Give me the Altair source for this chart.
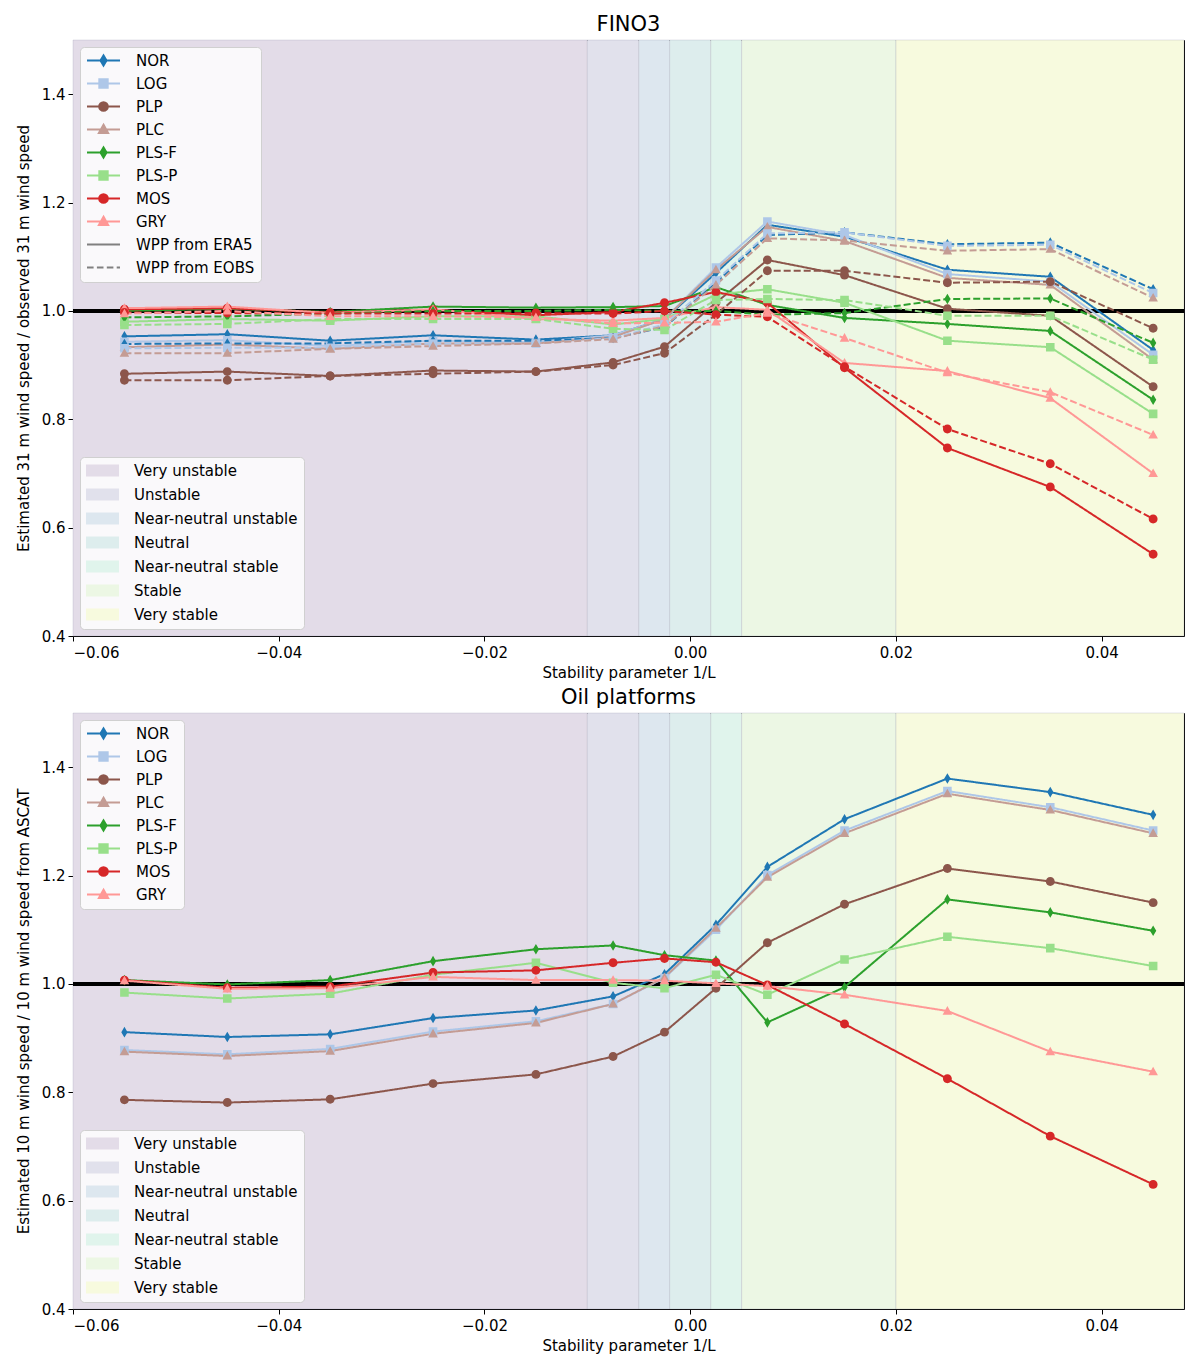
import altair as alt
import pandas as pd

# ---------------- data ----------------
x_vals = [-0.055, -0.045, -0.035, -0.025, -0.015, -0.0075, -0.0025,
          0.0025, 0.0075, 0.015, 0.025, 0.035, 0.045]

methods = ["NOR", "LOG", "PLP", "PLC", "PLS-F", "PLS-P", "MOS", "GRY"]
method_colors = ["#1f77b4", "#aec7e8", "#8c564b", "#c49c94",
                 "#2ca02c", "#98df8a", "#d62728", "#ff9896"]
wpp_labels = ["WPP from ERA5", "WPP from EOBS"]
wpp_color = "#808080"

# FINO3, WPP from ERA5 (solid)
fino_era5_nor = [0.953, 0.957, 0.945, 0.955, 0.947, 0.955, 0.985, 1.070, 1.159, 1.137, 1.076, 1.063, 0.928]
fino_era5_log = [0.943, 0.946, 0.935, 0.945, 0.942, 0.955, 0.985, 1.080, 1.165, 1.140, 1.068, 1.054, 0.919]
fino_era5_plp = [0.884, 0.888, 0.880, 0.890, 0.888, 0.905, 0.934, 1.015, 1.094, 1.066, 1.004, 0.991, 0.860]
fino_era5_plc = [0.933, 0.938, 0.930, 0.940, 0.940, 0.952, 0.985, 1.076, 1.155, 1.129, 1.061, 1.048, 0.910]
fino_era5_plsf = [1.000, 1.004, 0.998, 1.008, 1.006, 1.007, 1.009, 1.044, 1.011, 0.987, 0.976, 0.963, 0.836]
fino_era5_plsp = [0.980, 0.985, 0.982, 0.990, 0.990, 0.975, 0.985, 1.030, 1.040, 1.015, 0.945, 0.933, 0.810]
fino_era5_mos = [1.003, 1.005, 0.997, 1.002, 0.992, 0.998, 1.015, 1.035, 1.015, 0.895, 0.747, 0.675, 0.551]
fino_era5_gry = [1.005, 1.008, 0.996, 1.003, 0.985, 0.982, 0.987, 1.007, 1.002, 0.904, 0.889, 0.839, 0.700]

# FINO3, WPP from EOBS (dashed)
fino_eobs_nor = [0.939, 0.940, 0.940, 0.945, 0.945, 0.950, 0.970, 1.052, 1.140, 1.145, 1.123, 1.126, 1.040]
fino_eobs_log = [0.931, 0.932, 0.932, 0.940, 0.940, 0.950, 0.975, 1.056, 1.143, 1.145, 1.120, 1.122, 1.033]
fino_eobs_plp = [0.872, 0.872, 0.880, 0.884, 0.888, 0.900, 0.922, 0.993, 1.074, 1.074, 1.052, 1.054, 0.968]
fino_eobs_plc = [0.922, 0.922, 0.930, 0.935, 0.940, 0.948, 0.972, 1.048, 1.134, 1.130, 1.111, 1.114, 1.024]
fino_eobs_plsf = [0.988, 0.990, 0.995, 1.000, 1.000, 1.002, 1.000, 1.000, 0.993, 0.996, 1.022, 1.023, 0.941]
fino_eobs_plsp = [0.974, 0.976, 0.985, 0.985, 0.985, 0.967, 0.965, 1.020, 1.022, 1.020, 0.991, 0.991, 0.910]
fino_eobs_mos = [0.997, 0.996, 0.995, 0.995, 0.996, 0.995, 1.000, 0.993, 0.989, 0.897, 0.782, 0.718, 0.616]
fino_eobs_gry = [0.995, 1.000, 0.990, 0.990, 0.988, 0.977, 0.978, 0.980, 0.996, 0.950, 0.886, 0.850, 0.771]

# Oil platforms
oil_nor = [0.911, 0.902, 0.907, 0.937, 0.951, 0.977, 1.018, 1.109, 1.216, 1.304, 1.379, 1.354, 1.312]
oil_log = [0.878, 0.870, 0.880, 0.912, 0.931, 0.963, 1.011, 1.100, 1.201, 1.283, 1.356, 1.326, 1.283]
oil_plp = [0.786, 0.781, 0.787, 0.816, 0.833, 0.866, 0.911, 0.992, 1.076, 1.147, 1.213, 1.189, 1.150]
oil_plc = [0.875, 0.867, 0.876, 0.908, 0.928, 0.963, 1.012, 1.103, 1.197, 1.278, 1.351, 1.321, 1.278]
oil_plsf = [1.007, 0.999, 1.007, 1.042, 1.064, 1.071, 1.053, 1.043, 0.929, 0.994, 1.156, 1.132, 1.098]
oil_plsp = [0.984, 0.973, 0.982, 1.017, 1.039, 1.002, 0.992, 1.017, 0.980, 1.045, 1.087, 1.066, 1.033]
oil_mos = [1.007, 0.993, 0.995, 1.021, 1.025, 1.039, 1.047, 1.040, 0.998, 0.926, 0.825, 0.719, 0.630]
oil_gry = [1.006, 0.991, 0.992, 1.013, 1.007, 1.007, 1.006, 1.001, 0.996, 0.980, 0.950, 0.875, 0.838]

# stability classes
region_names = ["Very unstable", "Unstable", "Near-neutral unstable", "Neutral",
                "Near-neutral stable", "Stable", "Very stable"]
region_start = [-0.06, -0.01, -0.005, -0.002, 0.002, 0.005, 0.02]
region_end = [-0.01, -0.005, -0.002, 0.002, 0.005, 0.02, 0.048]
region_colors = ["#e3dce8", "#e1e1ec", "#dde7ef", "#ddeded", "#e0f4ec", "#ecf7e4", "#f7fade"]

x_ticks = [-0.06, -0.04, -0.02, 0.0, 0.02, 0.04]
y_ticks = [0.4, 0.6, 0.8, 1.0, 1.2, 1.4]

# ---------------- tables ----------------
fino_series = {
    ("ERA5", "NOR"): fino_era5_nor, ("ERA5", "LOG"): fino_era5_log,
    ("ERA5", "PLP"): fino_era5_plp, ("ERA5", "PLC"): fino_era5_plc,
    ("ERA5", "PLS-F"): fino_era5_plsf, ("ERA5", "PLS-P"): fino_era5_plsp,
    ("ERA5", "MOS"): fino_era5_mos, ("ERA5", "GRY"): fino_era5_gry,
    ("EOBS", "NOR"): fino_eobs_nor, ("EOBS", "LOG"): fino_eobs_log,
    ("EOBS", "PLP"): fino_eobs_plp, ("EOBS", "PLC"): fino_eobs_plc,
    ("EOBS", "PLS-F"): fino_eobs_plsf, ("EOBS", "PLS-P"): fino_eobs_plsp,
    ("EOBS", "MOS"): fino_eobs_mos, ("EOBS", "GRY"): fino_eobs_gry,
}
oil_series = {
    ("ERA5", "NOR"): oil_nor, ("ERA5", "LOG"): oil_log,
    ("ERA5", "PLP"): oil_plp, ("ERA5", "PLC"): oil_plc,
    ("ERA5", "PLS-F"): oil_plsf, ("ERA5", "PLS-P"): oil_plsp,
    ("ERA5", "MOS"): oil_mos, ("ERA5", "GRY"): oil_gry,
}


def long_table(series):
    rows = []
    for (src, m), vals in series.items():
        for xv, yv in zip(x_vals, vals):
            rows.append({"source": src, "method": m, "x": xv, "value": yv})
    return pd.DataFrame(rows)


fino_df = long_table(fino_series)
oil_df = long_table(oil_series)
region_df = pd.DataFrame({"region": region_names, "x0": region_start, "x1": region_end})

# symbols: a line segment plus a marker; in the plot only the filled marker shows,
# in the legend the stroked line segment appears too
L = "M-1,0L1,0"
sym_diamond = L + "M0,-0.32L0.19,0L0,0.32L-0.19,0Z"
sym_square = L + "M-0.26,-0.26L0.26,-0.26L0.26,0.26L-0.26,0.26Z"
sym_circle = L + "M-0.27,0A0.27,0.27,0,1,0,0.27,0A0.27,0.27,0,1,0,-0.27,0Z"
sym_tri = L + "M0,-0.3L0.29,0.22L-0.29,0.22Z"
sym_dash = "M-1,0L-0.6,0M-0.4,0L0,0M0.2,0L0.6,0M0.8,0L1,0"
method_shapes = [sym_diamond, sym_square, sym_circle, sym_tri,
                 sym_diamond, sym_square, sym_circle, sym_tri]
wpp_shapes = [L, sym_dash]

font = "DejaVu Sans"
FS = 15


def panel(df, title, ytitle, with_wpp):
    dom = methods + (wpp_labels if with_wpp else [])
    crange = method_colors + ([wpp_color, wpp_color] if with_wpp else [])
    srange = method_shapes + (wpp_shapes if with_wpp else [])
    series_legend = alt.Legend(
        title=None, orient="top-left", offset=7, padding=6,
        labelFontSize=FS, labelFont=font, labelOffset=15, labelColor="#000000",
        labelLimit=400,
        rowPadding=7, clipHeight=15, symbolSize=1089, symbolStrokeWidth=1.8,
        fillColor="rgba(255,255,255,0.82)", strokeColor="#d0d0d0", cornerRadius=4,
    )
    xscale = alt.Scale(domain=[-0.06, 0.048], nice=False, zero=False)
    xenc = alt.X("x:Q", title="Stability parameter 1/L", scale=xscale,
                 axis=alt.Axis(values=x_ticks, format=".2f"))
    yenc = alt.Y("value:Q", title=ytitle,
                 scale=alt.Scale(domain=[0.4, 1.5], nice=False, zero=False),
                 axis=alt.Axis(values=y_ticks, format=".1f"))
    cenc = alt.Color("method:N", scale=alt.Scale(domain=dom, range=crange), legend=series_legend)
    senc = alt.Shape("method:N", scale=alt.Scale(domain=dom, range=srange), legend=series_legend)

    regions = alt.Chart(region_df).mark_rect(stroke="#9a9ab0", strokeOpacity=0.25, strokeWidth=1).encode(
        x=alt.X("x0:Q", scale=xscale),
        x2="x1:Q",
        fill=alt.Fill("region:N", scale=alt.Scale(domain=region_names, range=region_colors),
                      legend=alt.Legend(
                          title=None, orient="bottom-left", offset=7, padding=6,
                          labelFontSize=FS, labelFont=font, labelOffset=15, labelColor="#000000",
                          labelLimit=400,
                          rowPadding=8, clipHeight=15, symbolSize=1089, symbolOpacity=1,
                          symbolType="M-1,-0.36L1,-0.36L1,0.36L-1,0.36Z",
                          symbolStrokeWidth=0,
                          fillColor="rgba(255,255,255,0.82)", strokeColor="#d0d0d0",
                          cornerRadius=4)),
    )
    one = alt.Chart(region_df).mark_rule(color="black", strokeWidth=4).encode(y=alt.datum(1.0))
    lines = alt.Chart(df).mark_line(strokeWidth=2).encode(
        x=xenc, y=yenc, color=cenc,
        strokeDash=alt.StrokeDash("source:N", scale=alt.Scale(domain=["ERA5", "EOBS"], range=[[1, 0], [7, 3]]),
                                  legend=None),
        order="x:Q",
    )
    points = alt.Chart(df).mark_point(filled=True, size=1089, opacity=1).encode(
        x=xenc, y=yenc, color=cenc, shape=senc,
    )
    return alt.layer(regions, one, lines, points).properties(
        width=1111, height=596,
        title=alt.TitleParams(title, fontSize=21, font=font, fontWeight="normal", offset=5, color="#000000"),
    )


top = panel(fino_df, "FINO3", "Estimated 31 m wind speed / observed 31 m wind speed", True)
bottom = panel(oil_df, "Oil platforms", "Estimated 10 m wind speed / 10 m wind speed from ASCAT", False)

chart = alt.vconcat(top, bottom, spacing=5).resolve_scale(
    color="independent", shape="independent", fill="independent",
    strokeDash="independent"
).resolve_legend(color="independent", shape="independent", fill="independent").properties(
    padding={"left": 7, "top": 5, "right": 5, "bottom": 5}
).configure(font=font).configure_view(
    stroke="#000000", strokeWidth=1
).configure_axis(
    grid=False, domain=False, tickColor="#000000", tickSize=5, tickWidth=1,
    labelFontSize=FS, labelFont=font, labelColor="#000000", labelPadding=3,
    titleFontSize=FS, titleFont=font, titleColor="#000000", titleFontWeight="normal",
).configure_axisX(titlePadding=5, labelPadding=4).configure_axisY(titlePadding=10)

chart.save("out.html", embed_options={"renderer": "svg", "actions": False})
